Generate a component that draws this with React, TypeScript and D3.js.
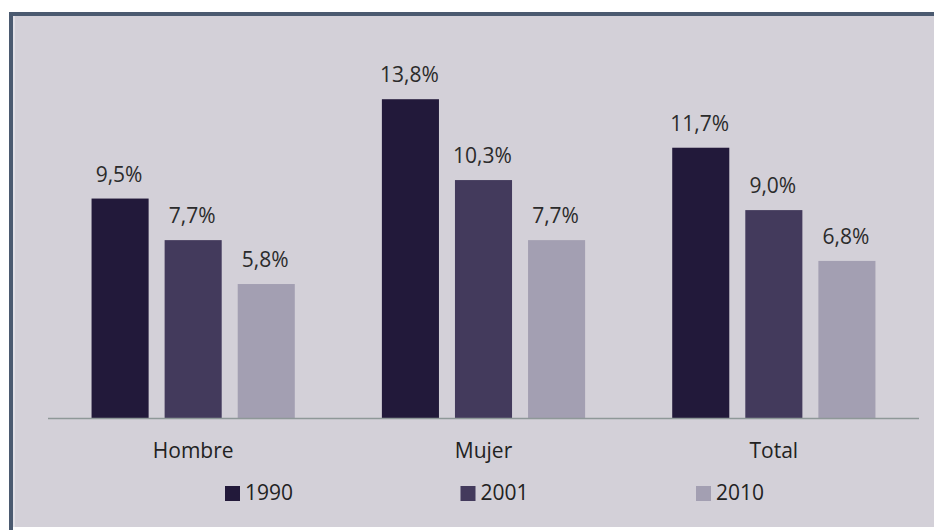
import React from "react";
import * as d3 from "d3";

const categories = ["Hombre", "Mujer", "Total"];
const seriesNames = ["1990", "2001", "2010"];
const values1990 = [9.5, 13.8, 11.7];
const values2001 = [7.7, 10.3, 9.0];
const values2010 = [5.8, 7.7, 6.8];
const seriesColors = ["#22193a", "#433a5c", "#a39fb2"];

const W = 934;
const H = 531;
const FONT = "'Open Sans', sans-serif";

export default function App() {
  const series = [values1990, values2001, values2010];
  const x0 = d3.scaleBand<string>().domain(categories).range([48, 919]);
  const x1 = d3
    .scaleBand<string>()
    .domain(seriesNames)
    .range([0, x0.bandwidth()])
    .paddingInner(0.219)
    .paddingOuter(0.596);
  const y = d3.scaleLinear().domain([0, 15]).range([418, 71.5]);
  const fmt = (v: number) => v.toFixed(1).replace(".", ",") + "%";

  const legendX = d3.scalePoint<string>().domain(seriesNames).range([225, 696]);

  return (
    <svg
      width={W}
      height={H}
      style={{ position: "absolute", left: 0, top: 0, display: "block" }}
      fontFamily={FONT}
    >
      <rect x={0} y={0} width={W} height={H} fill="#ffffff" />
      <rect x={9} y={12} width={W - 9} height={515} fill="#d3d0d8" />
      <rect x={13} y={16} width={2} height={511} fill="#e2e0e6" />
      <rect x={9} y={12} width={W - 9} height={4} fill="#4b5a70" />
      <rect x={9} y={12} width={4} height={518} fill="#4b5a70" />

      {categories.map((c, ci) => (
        <g key={c} transform={`translate(${x0(c)},0)`}>
          {seriesNames.map((s, si) => {
            const v = series[si][ci];
            const bx = x1(s)!;
            return (
              <g key={s}>
                <rect
                  x={bx}
                  y={y(v)}
                  width={x1.bandwidth()}
                  height={y(0) - y(v)}
                  fill={seriesColors[si]}
                />
                <text
                  x={bx + x1.bandwidth() / 2 - 1}
                  y={y(v) - 17}
                  textAnchor="middle"
                  fontSize={21}
                  fill="#2b2b2b"
                >
                  {fmt(v)}
                </text>
              </g>
            );
          })}
          <text
            x={x0.bandwidth() / 2}
            y={458}
            textAnchor="middle"
            fontSize={21}
            fill="#222222"
          >
            {c}
          </text>
        </g>
      ))}

      <line x1={48} x2={919} y1={418.5} y2={418.5} stroke="#8e9898" strokeWidth={1.5} />

      {seriesNames.map((s, si) => (
        <g key={s} transform={`translate(${legendX(s)},0)`}>
          <rect x={0} y={486} width={15} height={15} fill={seriesColors[si]} />
          <text x={20} y={500} fontSize={21} fill="#222222">
            {s}
          </text>
        </g>
      ))}
    </svg>
  );
}
